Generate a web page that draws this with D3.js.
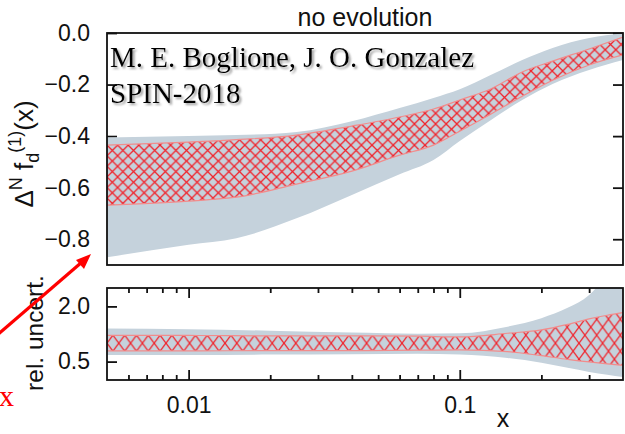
<!DOCTYPE html>
<html>
<head>
<meta charset="utf-8">
<script src="https://cdn.jsdelivr.net/npm/d3@7"></script>
<style>
  html, body { margin: 0; padding: 0; background: #fff; }
  svg { display: block; }
  .tick text { font-family: "Liberation Sans", Arial, Helvetica, sans-serif; font-size: 23px; fill: #111; }
  .tick line { stroke: #111; stroke-width: 1.8; }
  .domain { display: none; }
</style>
</head>
<body>
<svg id="chart" width="625" height="434"></svg>
<script>
// ---- upper panel: Sivers first moment, d quark ----
const topX          = [0.005, 0.01, 0.015, 0.025, 0.04, 0.06, 0.08, 0.1, 0.13, 0.17, 0.22, 0.3, 0.4];
const topBandHigh   = [-0.405, -0.400, -0.396, -0.384, -0.342, -0.291, -0.252, -0.218, -0.163, -0.105, -0.058, -0.019, -0.002];
const topBandLow    = [-0.870, -0.821, -0.796, -0.719, -0.628, -0.548, -0.493, -0.419, -0.338, -0.260, -0.198, -0.144, -0.105];
const topHatchHigh  = [-0.435, -0.423, -0.414, -0.396, -0.361, -0.326, -0.295, -0.260, -0.217, -0.151, -0.109, -0.062, -0.016];
const topHatchLow   = [-0.668, -0.652, -0.637, -0.586, -0.536, -0.474, -0.435, -0.381, -0.315, -0.245, -0.183, -0.124, -0.085];
const topYTicks     = [0.0, -0.2, -0.4, -0.6, -0.8];

// ---- lower panel: relative uncertainty ----
const botX          = [0.005, 0.01, 0.02, 0.04, 0.07, 0.1, 0.15, 0.2, 0.25, 0.3, 0.35, 0.4];
const botBandHigh   = [1.40, 1.38, 1.34, 1.29, 1.26, 1.27, 1.45, 1.68, 1.96, 2.31, 2.85, 3.30];
const botBandLow    = [0.68, 0.68, 0.69, 0.70, 0.71, 0.69, 0.60, 0.47, 0.33, 0.22, 0.14, 0.08];
const botHatchHigh  = [1.21, 1.21, 1.20, 1.20, 1.19, 1.17, 1.27, 1.36, 1.51, 1.66, 1.76, 1.83];
const botHatchLow   = [0.79, 0.79, 0.80, 0.80, 0.81, 0.82, 0.77, 0.66, 0.56, 0.49, 0.44, 0.40];
const botYTicks     = [0.5, 2.0];

const xMajorTicks   = [0.01, 0.1];
const xMinorTicks   = [0.006, 0.007, 0.008, 0.009, 0.02, 0.03, 0.04, 0.05, 0.06, 0.07, 0.08, 0.09, 0.2, 0.3];

const svg = d3.select("#chart");
const sans = '"Liberation Sans", Arial, Helvetica, sans-serif';
const serif = '"Liberation Serif", "Times New Roman", Times, serif';

const L = 107, R = 623;
const topP = { t: 33, b: 265 };
const botP = { t: 288, b: 380 };

const x = d3.scaleLog().domain([0.005, 0.4]).range([L, R]);
const yTop = d3.scaleLinear().domain([-0.9, 0.0]).range([topP.b, topP.t]);
const yBot = d3.scaleLinear().domain([0.0, 2.5]).range([botP.b, botP.t]);

const defs = svg.append("defs");

// cross-hatch patterns
function hatch(id, w, h, ox, oy) {
  const p = defs.append("pattern")
    .attr("id", id).attr("patternUnits", "userSpaceOnUse")
    .attr("x", ox).attr("y", oy).attr("width", w).attr("height", h);
  p.append("path")
    .attr("d", `M0,0L${w},${h}M0,${h}L${w},0`)
    .attr("stroke", "#f0222a").attr("stroke-width", 1.3).attr("fill", "none");
}
hatch("hatchTop", 10.6, 10.6, L, yTop(-0.435));
hatch("hatchBot", 11.8, 16, L, yBot(1.0));

defs.append("clipPath").attr("id", "clipTop")
  .append("rect").attr("x", L).attr("y", topP.t).attr("width", R - L).attr("height", topP.b - topP.t);
defs.append("clipPath").attr("id", "clipBot")
  .append("rect").attr("x", L).attr("y", botP.t).attr("width", R - L).attr("height", botP.b - botP.t);

const shadow = defs.append("filter").attr("id", "shadow")
  .attr("x", "-10%").attr("y", "-30%").attr("width", "130%").attr("height", "160%");
shadow.append("feDropShadow").attr("dx", 2).attr("dy", 2).attr("stdDeviation", 1.2)
  .attr("flood-color", "#777").attr("flood-opacity", 0.7);

// ---- axes (drawn first, bands lie over them) ----
function styleTicks(g) { g.select(".domain").remove(); }

svg.append("g").attr("transform", `translate(${L},0)`)
  .call(d3.axisLeft(yTop).tickValues(topYTicks).tickSize(-10).tickPadding(17).tickFormat(d3.format(".1f")))
  .call(styleTicks);
svg.append("g").attr("transform", `translate(${R},0)`)
  .call(d3.axisRight(yTop).tickValues(topYTicks).tickSize(-10).tickFormat(""))
  .call(styleTicks);

svg.append("g").attr("transform", `translate(${L},0)`)
  .call(d3.axisLeft(yBot).tickValues(botYTicks).tickSize(-10).tickPadding(17).tickFormat(d3.format(".1f")))
  .call(styleTicks);
svg.append("g").attr("transform", `translate(${R},0)`)
  .call(d3.axisRight(yBot).tickValues(botYTicks).tickSize(-10).tickFormat(""))
  .call(styleTicks);

svg.append("g").attr("transform", `translate(0,${botP.b})`)
  .call(d3.axisBottom(x).tickValues(xMajorTicks).tickSize(-10).tickPadding(17).tickFormat(d => d === 0.01 ? "0.01" : "0.1"))
  .call(styleTicks);
svg.append("g").attr("transform", `translate(0,${botP.b})`)
  .call(d3.axisBottom(x).tickValues(xMinorTicks).tickSize(-5).tickFormat(""))
  .call(styleTicks);
svg.append("g").attr("transform", `translate(0,${botP.t})`)
  .call(d3.axisTop(x).tickValues(xMajorTicks).tickSize(-10).tickFormat(""))
  .call(styleTicks);
svg.append("g").attr("transform", `translate(0,${botP.t})`)
  .call(d3.axisTop(x).tickValues(xMinorTicks).tickSize(-5).tickFormat(""))
  .call(styleTicks);

// ---- bands ----
function drawBands(clip, xs, bandLo, bandHi, hatchLo, hatchHi, y, patternId) {
  const g = svg.append("g").attr("clip-path", `url(#${clip})`);
  const band = xs.map((d, i) => ({ x: d, lo: bandLo[i], hi: bandHi[i] }));
  const hat = xs.map((d, i) => ({ x: d, lo: hatchLo[i], hi: hatchHi[i] }));
  const area = d3.area().curve(d3.curveMonotoneX)
    .x(d => x(d.x)).y0(d => y(d.lo)).y1(d => y(d.hi));
  const line = d3.line().curve(d3.curveMonotoneX).x(d => x(d.x));

  g.append("path").attr("d", area(band)).attr("fill", "#c5d2dc");
  g.append("path").attr("d", area(hat)).attr("fill", `url(#${patternId})`);
  g.append("path").attr("d", line.y(d => y(d.hi))(hat))
    .attr("fill", "none").attr("stroke", "#f28c8c").attr("stroke-width", 1.2);
  g.append("path").attr("d", line.y(d => y(d.lo))(hat))
    .attr("fill", "none").attr("stroke", "#f28c8c").attr("stroke-width", 1.2);
}
drawBands("clipTop", topX, topBandLow, topBandHigh, topHatchLow, topHatchHigh, yTop, "hatchTop");
drawBands("clipBot", botX, botBandLow, botBandHigh, botHatchLow, botHatchHigh, yBot, "hatchBot");

// ---- frames ----
[topP, botP].forEach(p => {
  svg.append("rect").attr("x", L).attr("y", p.t).attr("width", R - L).attr("height", p.b - p.t)
    .attr("fill", "none").attr("stroke", "#111").attr("stroke-width", 1.8);
});

// ---- titles and labels ----
svg.append("text").attr("x", 365).attr("y", 26).attr("text-anchor", "middle")
  .attr("font-family", sans).attr("font-size", 25).attr("fill", "#111").text("no evolution");

const yl = svg.append("text").attr("transform", "translate(33,154) rotate(-90)")
  .attr("text-anchor", "middle").attr("font-family", sans).attr("font-size", 26).attr("fill", "#111");
yl.append("tspan").text("Δ");
yl.append("tspan").attr("font-size", 18).attr("dy", -11).text("N");
yl.append("tspan").attr("dy", 11).text(" f");
yl.append("tspan").attr("font-size", 18).attr("dy", 6).text("d");
yl.append("tspan").attr("font-size", 18).attr("dy", -18).text("(1)");
yl.append("tspan").attr("dy", 12).text("(x)");

svg.append("text").attr("transform", "translate(43,333) rotate(-90)")
  .attr("text-anchor", "middle").attr("font-family", sans).attr("font-size", 24.5).attr("fill", "#111")
  .text("rel. uncert.");

svg.append("text").attr("x", 503).attr("y", 427).attr("text-anchor", "middle")
  .attr("font-family", sans).attr("font-size", 25).attr("fill", "#111").text("x");

// authors' stamp
const stamp = svg.append("g").attr("filter", "url(#shadow)")
  .attr("font-family", serif).attr("font-size", 29).attr("fill", "#000");
stamp.append("text").attr("x", 110).attr("y", 67).text("M. E. Boglione, J. O. Gonzalez");
stamp.append("text").attr("x", 110).attr("y", 103).text("SPIN-2018");

// red pointer annotation
svg.append("line").attr("x1", -4).attr("y1", 336).attr("x2", 82).attr("y2", 262)
  .attr("stroke", "#f00").attr("stroke-width", 3.2);
svg.append("path").attr("d", "M91,254 L76,260 L84,269 Z").attr("fill", "#f00");
svg.append("text").attr("x", -1).attr("y", 406).attr("font-family", serif).attr("font-size", 30)
  .attr("fill", "#f00").text("x");
</script>
</body>
</html>
